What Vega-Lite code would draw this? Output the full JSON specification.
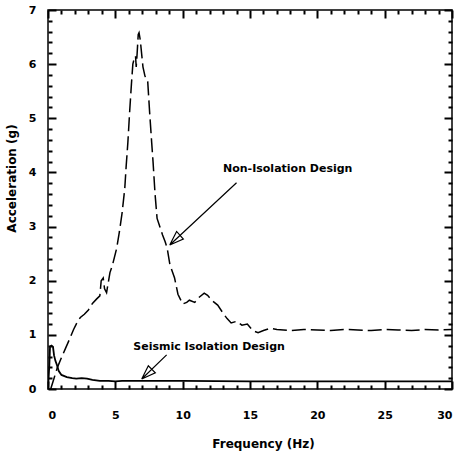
{
  "$schema": "https://vega.github.io/schema/vega-lite/v6.json",
  "width": 404,
  "height": 379,
  "autosize": {"type": "none"},
  "padding": {"left": 48, "top": 10, "right": 15, "bottom": 64},
  "background": "white",
  "config": {
    "view": {"stroke": "black", "strokeWidth": 1.5},
    "font": "DejaVu Sans",
    "axis": {
      "labelColor": "black",
      "labelFont": "DejaVu Sans",
      "labelFontSize": 11,
      "labelFontWeight": "bold",
      "titleColor": "black",
      "titleFont": "DejaVu Sans",
      "titleFontSize": 12,
      "titleFontWeight": "bold"
    }
  },
  "datasets": {
    "nonIsolation": [
      {"f": 0.2, "a": 0.0}, {"f": 0.45, "a": 0.2}, {"f": 0.7, "a": 0.4}, {"f": 1.0, "a": 0.58},
      {"f": 1.3, "a": 0.75}, {"f": 1.6, "a": 0.92}, {"f": 1.9, "a": 1.1}, {"f": 2.2, "a": 1.25},
      {"f": 2.4, "a": 1.32}, {"f": 2.7, "a": 1.38}, {"f": 3.0, "a": 1.46}, {"f": 3.3, "a": 1.58},
      {"f": 3.6, "a": 1.66}, {"f": 3.85, "a": 1.72}, {"f": 3.95, "a": 2.0}, {"f": 4.1, "a": 2.05},
      {"f": 4.2, "a": 1.85}, {"f": 4.35, "a": 1.78}, {"f": 4.6, "a": 2.15}, {"f": 4.8, "a": 2.3},
      {"f": 5.1, "a": 2.6}, {"f": 5.3, "a": 2.9}, {"f": 5.5, "a": 3.25}, {"f": 5.7, "a": 3.7},
      {"f": 5.8, "a": 4.1}, {"f": 5.93, "a": 4.55}, {"f": 6.07, "a": 5.15}, {"f": 6.2, "a": 5.65},
      {"f": 6.3, "a": 6.0}, {"f": 6.4, "a": 6.1}, {"f": 6.5, "a": 6.15}, {"f": 6.55, "a": 5.95},
      {"f": 6.62, "a": 6.2}, {"f": 6.7, "a": 6.55}, {"f": 6.76, "a": 6.58}, {"f": 6.85, "a": 6.45},
      {"f": 6.95, "a": 6.2}, {"f": 7.05, "a": 5.95}, {"f": 7.2, "a": 5.78}, {"f": 7.4, "a": 5.7},
      {"f": 7.55, "a": 5.1}, {"f": 7.7, "a": 4.55}, {"f": 7.8, "a": 4.2}, {"f": 7.95, "a": 3.6},
      {"f": 8.1, "a": 3.15}, {"f": 8.3, "a": 3.0}, {"f": 8.5, "a": 2.85}, {"f": 8.7, "a": 2.72},
      {"f": 8.85, "a": 2.6}, {"f": 9.05, "a": 2.3}, {"f": 9.4, "a": 2.05}, {"f": 9.65, "a": 1.75},
      {"f": 10.0, "a": 1.57}, {"f": 10.3, "a": 1.6}, {"f": 10.5, "a": 1.64}, {"f": 10.9, "a": 1.6},
      {"f": 11.25, "a": 1.7}, {"f": 11.6, "a": 1.77}, {"f": 11.85, "a": 1.73}, {"f": 12.2, "a": 1.63},
      {"f": 12.6, "a": 1.55}, {"f": 13.0, "a": 1.4}, {"f": 13.3, "a": 1.3}, {"f": 13.6, "a": 1.22},
      {"f": 14.0, "a": 1.25}, {"f": 14.4, "a": 1.18}, {"f": 14.8, "a": 1.2}, {"f": 15.2, "a": 1.08},
      {"f": 15.6, "a": 1.04}, {"f": 16.0, "a": 1.08}, {"f": 16.5, "a": 1.12}, {"f": 17, "a": 1.1},
      {"f": 18, "a": 1.08}, {"f": 19, "a": 1.1}, {"f": 20, "a": 1.09}, {"f": 21, "a": 1.08},
      {"f": 22, "a": 1.1}, {"f": 23, "a": 1.09}, {"f": 24, "a": 1.08}, {"f": 25, "a": 1.1},
      {"f": 26, "a": 1.09}, {"f": 27, "a": 1.08}, {"f": 28, "a": 1.1}, {"f": 29, "a": 1.09},
      {"f": 30, "a": 1.1}
    ],
    "seismic": [
      {"f": 0.0, "a": 0.0}, {"f": 0.1, "a": 0.45}, {"f": 0.15, "a": 0.78}, {"f": 0.25, "a": 0.8},
      {"f": 0.37, "a": 0.78}, {"f": 0.45, "a": 0.62}, {"f": 0.55, "a": 0.52}, {"f": 0.67, "a": 0.44},
      {"f": 0.8, "a": 0.33}, {"f": 1.0, "a": 0.26}, {"f": 1.4, "a": 0.22}, {"f": 1.8, "a": 0.2},
      {"f": 2.1, "a": 0.19}, {"f": 2.5, "a": 0.2}, {"f": 2.9, "a": 0.19}, {"f": 3.3, "a": 0.17},
      {"f": 3.85, "a": 0.15}, {"f": 4.5, "a": 0.15}, {"f": 5.0, "a": 0.14}, {"f": 5.5, "a": 0.15},
      {"f": 7, "a": 0.15}, {"f": 10, "a": 0.15}, {"f": 15, "a": 0.14}, {"f": 20, "a": 0.14},
      {"f": 25, "a": 0.14}, {"f": 30, "a": 0.14}
    ],
    "arrows": [
      {"arrow": "non", "i": 0, "f": 14.0, "a": 3.81},
      {"arrow": "non", "i": 1, "f": 9.04, "a": 2.66},
      {"arrow": "non", "i": 2, "f": 10.05, "a": 2.77},
      {"arrow": "non", "i": 3, "f": 9.55, "a": 2.91},
      {"arrow": "non", "i": 4, "f": 9.04, "a": 2.66},
      {"arrow": "seis", "i": 0, "f": 8.81, "a": 0.63},
      {"arrow": "seis", "i": 1, "f": 6.96, "a": 0.185},
      {"arrow": "seis", "i": 2, "f": 7.97, "a": 0.3},
      {"arrow": "seis", "i": 3, "f": 7.45, "a": 0.43},
      {"arrow": "seis", "i": 4, "f": 6.96, "a": 0.185}
    ],
    "labels": [
      {"f": 17.8, "a": 4.07, "text": "Non-Isolation Design"},
      {"f": 11.96, "a": 0.78, "text": "Seismic Isolation Design"}
    ]
  },
  "resolve": {"axis": {"x": "independent", "y": "independent"}},
  "layer": [
    {
      "data": {"name": "nonIsolation"},
      "mark": {"type": "line", "color": "black", "strokeWidth": 1.5, "strokeDash": [14, 5], "clip": true},
      "encoding": {
        "x": {
          "field": "f", "type": "quantitative",
          "scale": {"domain": [0, 30], "nice": false, "zero": false},
          "axis": {
            "orient": "bottom", "grid": false, "domain": false, "zindex": 1,
            "values": [0, 1, 2, 3, 4, 5, 6, 7, 8, 9, 10, 11, 12, 13, 14, 15, 16, 17, 18, 19, 20, 21, 22, 23, 24, 25, 26, 27, 28, 29, 30],
            "labelExpr": "datum.value % 5 === 0 ? format(datum.value, 'd') : ''",
            "tickColor": "#000000", "tickWidth": 2,
            "tickSize": {"condition": {"test": "datum.value % 5 === 0", "value": -8}, "value": -4},
            "labelPadding": 28, "labelOverlap": false,
            "title": "Frequency (Hz)", "titlePadding": 14, "titleX": 215
          }
        },
        "y": {
          "field": "a", "type": "quantitative",
          "scale": {"domain": [0, 7], "nice": false, "zero": false},
          "axis": {
            "orient": "left", "grid": false, "domain": false, "zindex": 1,
            "values": [0, 0.2, 0.4, 0.6, 0.8, 1, 1.2, 1.4, 1.6, 1.8, 2, 2.2, 2.4, 2.6, 2.8, 3, 3.2, 3.4, 3.6, 3.8, 4, 4.2, 4.4, 4.6, 4.8, 5, 5.2, 5.4, 5.6, 5.8, 6, 6.2, 6.4, 6.6, 6.8, 7],
            "labelExpr": "abs(datum.value - round(datum.value)) < 0.001 ? format(datum.value, 'd') : ''",
            "tickColor": "#000000", "tickWidth": 2,
            "tickSize": {"condition": {"test": "abs(datum.value - round(datum.value)) < 0.001", "value": -8}, "value": -4},
            "labelPadding": 20, "labelOverlap": false,
            "title": "Acceleration (g)", "titlePadding": 10, "titleY": 168
          }
        }
      }
    },
    {
      "data": {"name": "seismic"},
      "mark": {"type": "line", "color": "black", "strokeWidth": 1.8, "clip": true},
      "encoding": {
        "x": {
          "field": "f", "type": "quantitative",
          "axis": {
            "orient": "top", "grid": false, "domain": false, "labels": false, "title": null, "zindex": 1,
            "values": [0, 1, 2, 3, 4, 5, 6, 7, 8, 9, 10, 11, 12, 13, 14, 15, 16, 17, 18, 19, 20, 21, 22, 23, 24, 25, 26, 27, 28, 29, 30],
            "tickColor": "#000000", "tickWidth": 2,
            "tickSize": {"condition": {"test": "datum.value % 5 === 0", "value": -8}, "value": -4}
          }
        },
        "y": {
          "field": "a", "type": "quantitative",
          "axis": {
            "orient": "right", "grid": false, "domain": false, "labels": false, "title": null, "zindex": 1,
            "values": [0, 0.2, 0.4, 0.6, 0.8, 1, 1.2, 1.4, 1.6, 1.8, 2, 2.2, 2.4, 2.6, 2.8, 3, 3.2, 3.4, 3.6, 3.8, 4, 4.2, 4.4, 4.6, 4.8, 5, 5.2, 5.4, 5.6, 5.8, 6, 6.2, 6.4, 6.6, 6.8, 7],
            "tickColor": "#000000", "tickWidth": 2,
            "tickSize": {"condition": {"test": "abs(datum.value - round(datum.value)) < 0.001", "value": -8}, "value": -4}
          }
        }
      }
    },
    {
      "data": {"name": "arrows"},
      "mark": {"type": "line", "color": "black", "strokeWidth": 1.2},
      "encoding": {
        "x": {"field": "f", "type": "quantitative", "axis": null},
        "y": {"field": "a", "type": "quantitative", "axis": null},
        "detail": {"field": "arrow"},
        "order": {"field": "i", "type": "quantitative"}
      }
    },
    {
      "data": {"name": "labels"},
      "mark": {"type": "text", "font": "DejaVu Sans", "fontSize": 11, "fontWeight": "bold", "color": "black", "align": "center", "baseline": "middle"},
      "encoding": {
        "x": {"field": "f", "type": "quantitative", "axis": null},
        "y": {"field": "a", "type": "quantitative", "axis": null},
        "text": {"field": "text"}
      }
    }
  ]
}
